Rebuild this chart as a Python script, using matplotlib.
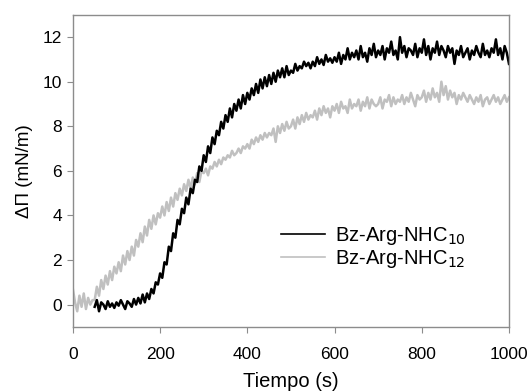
import numpy as np
import matplotlib.pyplot as plt

plt.rcParams['font.family'] = ['Liberation Sans', 'DejaVu Sans']

# Bz-Arg-NHC10, sampled every 5 s from t = 50 s
t10 = np.arange(50, 1001, 5)
y10 = [
    -0.1, 0.2, -0.3, 0.1, 0.0, -0.2, 0.15, -0.1, 0.05, -0.15,
    0.1, -0.05, 0.2, 0.0, -0.2, 0.15, 0.05, -0.1, 0.25, 0.0,
    0.3, 0.05, 0.45, 0.1, 0.5, 0.25, 0.7, 0.5, 1.0, 0.9,
    1.4, 1.2, 1.9, 1.8, 2.6, 2.4, 3.2, 3.0, 3.8, 3.6,
    4.3, 4.1, 4.8, 4.5, 5.2, 5.0, 5.6, 5.5, 6.2, 6.0,
    6.7, 6.4, 7.1, 6.8, 7.5, 7.2, 7.8, 7.6, 8.2, 7.9,
    8.5, 8.2, 8.8, 8.4, 9.0, 8.7, 9.2, 8.8, 9.4, 9.0,
    9.5, 9.2, 9.7, 9.4, 9.9, 9.5, 10.1, 9.7, 10.2, 9.8,
    10.3, 9.9, 10.4, 10.0, 10.5, 10.2, 10.6, 10.2, 10.7, 10.3,
    10.5, 10.4, 10.8, 10.5, 10.7, 10.6, 10.9, 10.7, 10.85, 10.6,
    10.9, 10.7, 11.1, 10.8, 11.0, 10.75, 11.2, 10.9, 11.05, 10.85,
    11.1, 10.9, 11.3, 10.8, 11.2, 11.0, 11.5, 11.0, 11.3, 11.1,
    11.4, 11.0, 11.6, 11.1, 11.3, 10.9, 11.5, 11.2, 11.7, 11.1,
    11.4, 11.2, 11.6, 11.0, 11.5, 11.3, 11.8, 11.2, 11.4, 11.0,
    12.0, 11.3, 11.6, 11.1, 11.5, 11.4, 11.2, 11.7, 11.1, 11.5,
    11.3, 11.9, 11.2, 11.6, 11.0, 11.5, 11.3, 11.8, 11.2, 11.6,
    11.4, 11.1, 11.6, 11.3, 11.5, 10.8, 11.4, 11.2, 11.6, 11.1,
    11.3, 11.5, 11.0, 11.4, 11.2, 11.6, 11.3, 11.1, 11.7, 11.2,
    11.4, 11.1, 11.5, 11.3, 11.9, 11.2, 11.5, 11.0, 11.6, 11.3,
    10.8,
]

# Bz-Arg-NHC12, sampled every 5 s from t = 0 s
t12 = np.arange(0, 1001, 5)
y12 = [
    0.7, 0.1, -0.3, 0.4, -0.1, 0.5, -0.2, 0.3, 0.0, 0.2,
    0.2, 0.8, 0.4, 1.1, 0.7, 1.3, 0.9, 1.5, 1.1, 1.7,
    1.4, 1.9, 1.5, 2.2, 1.8, 2.4, 2.0, 2.6, 2.2, 2.9,
    2.6, 3.2, 2.8, 3.5, 3.1, 3.8, 3.4, 4.0, 3.6, 4.1,
    3.9, 4.4, 4.0, 4.6, 4.2, 4.8, 4.4, 5.0, 4.7, 5.2,
    4.9, 5.4, 5.1, 5.6, 5.2, 5.7, 5.4, 5.9, 5.5, 6.0,
    5.9, 6.1, 5.8, 6.2, 6.1, 6.4, 6.2, 6.5, 6.3, 6.6,
    6.5, 6.7, 6.6, 6.9, 6.7, 6.8, 7.0, 6.8, 7.1, 7.0,
    7.2, 7.0, 7.4, 7.2, 7.5, 7.3, 7.6, 7.4, 7.7, 7.5,
    7.7, 7.6, 7.9, 7.3, 8.0, 7.7, 8.1, 7.8, 8.2, 7.9,
    8.0, 8.3, 7.9, 8.4, 8.1, 8.5, 8.2, 8.6, 8.3, 8.5,
    8.4, 8.7, 8.3, 8.8, 8.5, 8.9, 8.6, 8.8, 8.4, 8.9,
    8.7, 9.0, 8.6, 9.1, 8.8, 8.9, 8.6, 9.2, 8.8, 9.0,
    8.9, 9.2, 8.7, 9.1, 8.9, 9.3, 8.8, 9.2, 9.0, 8.9,
    9.0, 9.3, 8.8, 9.2, 9.1, 9.4, 8.9, 9.3, 9.0, 9.2,
    9.1, 9.4, 9.0, 9.3, 9.1, 9.5, 9.2, 8.9, 9.4, 9.2,
    9.3, 9.6, 9.1, 9.5, 9.2, 9.7, 9.3, 9.5, 9.1, 10.0,
    9.4, 9.8, 9.2, 9.6, 9.3, 9.5, 9.0, 9.4, 9.2, 9.5,
    9.3, 9.1, 9.4, 9.2, 9.0, 9.3, 9.1, 9.4, 8.9, 9.2,
    9.3, 9.0, 9.2, 9.4, 9.1, 9.3, 9.0, 9.2, 9.4, 9.1,
    9.3,
]

fig = plt.figure(figsize=(5.28, 3.91), dpi=100)
ax = fig.add_axes([0.138, 0.164, 0.826, 0.798])

ax.plot(t12, y12, color='#c0c0c0', lw=1.8, label='Bz-Arg-NHC$_{12}$')
ax.plot(t10, y10, color='black', lw=1.8, label='Bz-Arg-NHC$_{10}$')

ax.set_xlim(0, 1000)
ax.set_ylim(-1, 13)
ax.set_xticks(range(0, 1001, 200))
ax.set_yticks(range(0, 13, 2))

for s in ax.spines.values():
    s.set_color('#8c8c8c')
    s.set_linewidth(1.0)
ax.tick_params(direction='out', length=4, color='#8c8c8c', labelsize=12.5)
ax.tick_params(axis='x', pad=10.5)
ax.tick_params(axis='y', pad=4)

ax.set_xlabel('Tiempo (s)', fontsize=14.5, labelpad=7.5)
ax.set_ylabel('ΔΠ (mN/m)', fontsize=13.5, labelpad=7)

h, l = ax.get_legend_handles_labels()
leg = ax.legend(h[::-1], l[::-1], loc='lower left', bbox_to_anchor=(0.435, 0.125),
                frameon=False, fontsize=14.5, handlelength=2.2, handletextpad=0.5,
                labelspacing=0.05)
for line in leg.get_lines():
    line.set_linewidth(1.2)

fig.savefig('out.png', dpi=100)
